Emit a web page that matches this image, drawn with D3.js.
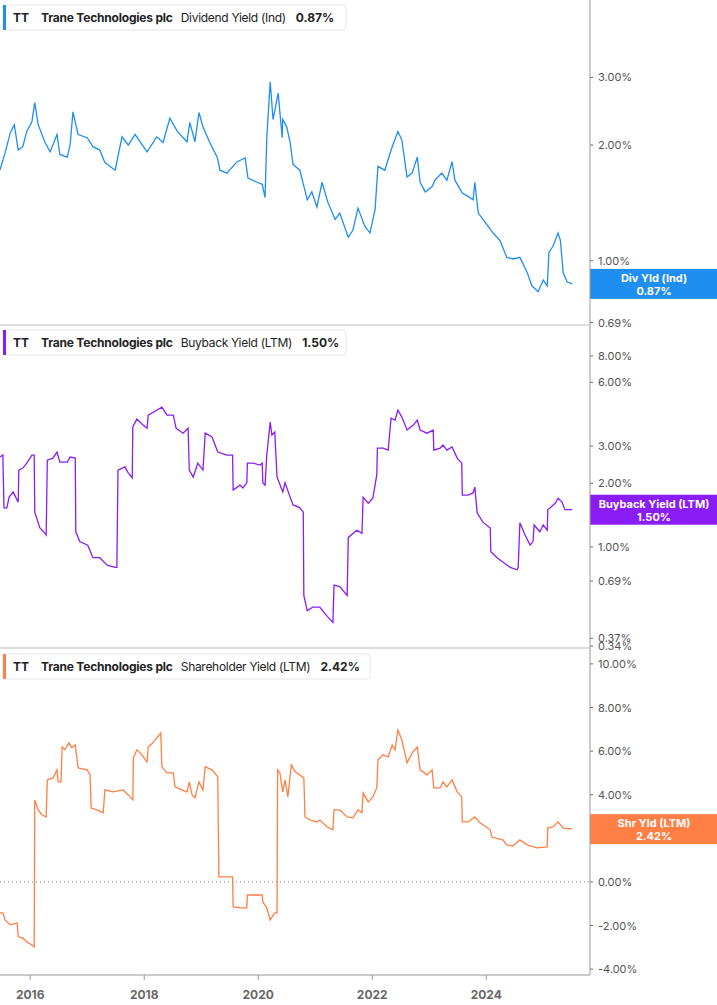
<!DOCTYPE html>
<html><head><meta charset="utf-8">
<script src="https://cdnjs.cloudflare.com/ajax/libs/d3/7.8.5/d3.min.js"></script>
<style>body{margin:0;background:#fff;font-family:Inter,"Noto Sans",sans-serif}</style>
</head><body><svg id="c" width="717" height="1005"></svg>
<script>
const divYield = [[2015.47,1.72],[2015.56,1.91],[2015.65,2.15],[2015.72,2.26],[2015.79,1.94],[2015.87,1.98],[2015.94,2.17],[2016.03,2.30],[2016.08,2.58],[2016.14,2.26],[2016.26,2.03],[2016.35,1.92],[2016.47,2.13],[2016.52,1.89],[2016.65,1.86],[2016.70,2.00],[2016.75,2.44],[2016.84,2.13],[2017.00,2.09],[2017.10,1.98],[2017.22,1.94],[2017.31,1.80],[2017.49,1.72],[2017.61,2.10],[2017.72,2.00],[2017.84,2.13],[2018.05,1.92],[2018.22,2.10],[2018.33,2.03],[2018.45,2.35],[2018.58,2.17],[2018.75,2.04],[2018.80,2.29],[2018.89,2.04],[2018.96,2.43],[2019.03,2.23],[2019.15,2.03],[2019.28,1.86],[2019.33,1.72],[2019.45,1.69],[2019.63,1.81],[2019.77,1.85],[2019.82,1.64],[2019.98,1.60],[2020.07,1.58],[2020.12,1.46],[2020.15,2.09],[2020.21,2.92],[2020.26,2.33],[2020.35,2.73],[2020.42,2.09],[2020.43,2.33],[2020.50,2.23],[2020.56,2.03],[2020.61,1.78],[2020.73,1.72],[2020.86,1.44],[2020.94,1.51],[2021.03,1.38],[2021.12,1.60],[2021.22,1.42],[2021.35,1.28],[2021.43,1.33],[2021.58,1.15],[2021.66,1.20],[2021.75,1.37],[2021.87,1.23],[2021.96,1.18],[2022.05,1.36],[2022.10,1.76],[2022.22,1.72],[2022.35,1.98],[2022.45,2.17],[2022.52,2.06],[2022.61,1.65],[2022.70,1.69],[2022.79,1.86],[2022.84,1.60],[2022.93,1.51],[2023.05,1.56],[2023.10,1.62],[2023.22,1.69],[2023.31,1.62],[2023.40,1.81],[2023.45,1.62],[2023.58,1.50],[2023.68,1.47],[2023.77,1.44],[2023.80,1.60],[2023.86,1.33],[2023.98,1.26],[2024.12,1.18],[2024.24,1.13],[2024.36,1.02],[2024.47,1.01],[2024.59,1.02],[2024.72,0.93],[2024.80,0.86],[2024.91,0.83],[2025.00,0.89],[2025.07,0.86],[2025.10,1.05],[2025.17,1.09],[2025.26,1.18],[2025.30,1.13],[2025.35,0.93],[2025.42,0.88],[2025.51,0.87]];
const buybackYield = [[2015.47,2.66],[2015.52,2.72],[2015.54,1.53],[2015.59,1.53],[2015.63,1.72],[2015.70,1.82],[2015.77,1.67],[2015.79,1.63],[2015.80,2.31],[2015.87,2.36],[2015.94,2.49],[2016.03,2.72],[2016.07,2.72],[2016.08,1.46],[2016.17,1.23],[2016.26,1.16],[2016.28,1.14],[2016.30,2.57],[2016.40,2.63],[2016.47,2.81],[2016.52,2.52],[2016.65,2.52],[2016.70,2.66],[2016.79,2.63],[2016.80,1.18],[2016.87,1.06],[2017.01,1.02],[2017.10,0.89],[2017.22,0.89],[2017.35,0.82],[2017.49,0.80],[2017.52,0.80],[2017.54,2.31],[2017.66,2.39],[2017.72,2.24],[2017.79,2.12],[2017.80,3.69],[2017.87,4.02],[2017.98,3.77],[2018.05,3.64],[2018.07,4.20],[2018.22,4.43],[2018.31,4.58],[2018.40,4.20],[2018.51,4.20],[2018.56,3.64],[2018.68,3.45],[2018.77,3.64],[2018.79,2.31],[2018.86,2.14],[2018.94,2.49],[2019.03,2.31],[2019.07,3.45],[2019.19,3.31],[2019.29,2.81],[2019.45,2.72],[2019.55,2.72],[2019.56,1.86],[2019.68,1.96],[2019.73,1.90],[2019.80,2.01],[2019.81,2.49],[2019.91,2.49],[2020.03,2.44],[2020.07,2.49],[2020.08,2.01],[2020.12,1.96],[2020.15,2.72],[2020.21,3.89],[2020.24,3.38],[2020.29,3.49],[2020.33,2.14],[2020.43,1.82],[2020.47,2.01],[2020.56,1.72],[2020.61,1.58],[2020.72,1.54],[2020.79,1.46],[2020.80,0.59],[2020.86,0.50],[2020.96,0.52],[2021.08,0.52],[2021.21,0.47],[2021.31,0.44],[2021.33,0.66],[2021.43,0.65],[2021.56,0.59],[2021.58,1.11],[2021.73,1.20],[2021.82,1.16],[2021.84,1.72],[2021.93,1.61],[2022.01,1.70],[2022.08,2.19],[2022.09,2.93],[2022.19,2.93],[2022.28,2.87],[2022.33,4.06],[2022.40,3.98],[2022.45,4.43],[2022.52,4.11],[2022.61,3.57],[2022.72,3.77],[2022.79,3.98],[2022.84,3.57],[2022.96,3.45],[2023.07,3.57],[2023.08,2.87],[2023.19,2.93],[2023.24,3.03],[2023.31,2.87],[2023.40,2.97],[2023.49,2.63],[2023.57,2.49],[2023.58,1.76],[2023.68,1.76],[2023.77,1.80],[2023.80,1.92],[2023.84,1.45],[2023.94,1.31],[2024.07,1.23],[2024.08,0.95],[2024.19,0.89],[2024.29,0.85],[2024.42,0.80],[2024.54,0.78],[2024.56,0.80],[2024.59,1.30],[2024.68,1.14],[2024.77,1.02],[2024.82,1.06],[2024.84,1.27],[2024.94,1.18],[2025.00,1.27],[2025.07,1.20],[2025.08,1.50],[2025.21,1.61],[2025.26,1.70],[2025.33,1.63],[2025.38,1.50],[2025.51,1.50]];
const shrYield = [[2015.47,-1.42],[2015.52,-1.42],[2015.56,-1.74],[2015.65,-1.97],[2015.77,-1.88],[2015.79,-2.52],[2015.87,-2.57],[2015.94,-2.75],[2016.03,-2.89],[2016.07,-2.98],[2016.08,3.76],[2016.14,3.30],[2016.21,3.07],[2016.28,2.98],[2016.30,4.68],[2016.40,4.77],[2016.47,5.14],[2016.49,4.59],[2016.54,4.59],[2016.56,6.19],[2016.61,6.06],[2016.68,6.38],[2016.73,6.15],[2016.79,6.28],[2016.84,5.23],[2017.00,5.14],[2017.05,4.91],[2017.07,3.39],[2017.17,3.30],[2017.28,3.17],[2017.31,4.22],[2017.45,4.13],[2017.63,4.22],[2017.72,3.99],[2017.80,3.76],[2017.81,5.69],[2017.87,6.06],[2017.96,5.83],[2018.05,5.50],[2018.07,6.19],[2018.15,6.38],[2018.22,6.61],[2018.29,6.83],[2018.31,5.28],[2018.40,5.00],[2018.51,5.00],[2018.54,4.36],[2018.66,4.22],[2018.75,4.13],[2018.79,4.59],[2018.84,3.99],[2018.89,3.85],[2018.96,4.59],[2019.03,4.22],[2019.07,5.28],[2019.19,5.14],[2019.29,4.82],[2019.31,0.23],[2019.55,0.23],[2019.56,-1.15],[2019.68,-1.19],[2019.80,-1.19],[2019.81,-0.60],[2020.07,-0.60],[2020.08,-0.92],[2020.15,-1.19],[2020.21,-1.74],[2020.29,-1.42],[2020.33,-1.42],[2020.34,5.14],[2020.38,5.00],[2020.43,4.13],[2020.47,4.68],[2020.52,3.90],[2020.58,5.37],[2020.65,5.05],[2020.73,4.91],[2020.80,4.77],[2020.82,2.98],[2020.91,2.84],[2021.03,2.75],[2021.08,2.84],[2021.21,2.52],[2021.31,2.39],[2021.33,3.30],[2021.43,3.30],[2021.56,2.98],[2021.66,2.94],[2021.75,3.30],[2021.82,3.17],[2021.84,4.08],[2021.93,3.67],[2022.01,3.90],[2022.08,4.31],[2022.10,5.60],[2022.19,5.83],[2022.28,5.73],[2022.35,6.28],[2022.40,6.06],[2022.45,6.97],[2022.52,6.51],[2022.61,5.46],[2022.70,5.92],[2022.79,6.19],[2022.84,5.14],[2022.96,4.91],[2023.05,5.14],[2023.08,4.31],[2023.19,4.31],[2023.24,4.59],[2023.31,4.36],[2023.40,4.68],[2023.49,4.13],[2023.57,3.90],[2023.58,2.75],[2023.68,2.75],[2023.80,2.98],[2023.89,2.71],[2024.07,2.39],[2024.10,2.06],[2024.29,1.93],[2024.36,1.70],[2024.47,1.65],[2024.59,1.93],[2024.72,1.70],[2024.89,1.56],[2025.07,1.61],[2025.08,2.48],[2025.17,2.52],[2025.26,2.75],[2025.35,2.48],[2025.51,2.42]];
const divTicks = [3, 2, 1, 0.85, 0.69];
const buyTicks = [8, 6, 3, 2, 1, 0.69, 0.37, 0.34];
const shrTicks = [10, 8, 6, 4, 2, 0, -2, -4];
const yearTicks = [2016, 2018, 2020, 2022, 2024];

const svg = d3.select("#c");
const AX = 590;
const x = d3.scaleLinear().domain([2015.47, 2025.82]).range([0, AX]);
const panels = [
  {data: divYield, ticks: divTicks, y: d3.scaleLog().domain([0.68, 4.77]).range([325, 0]), color: "#1f8ef1",
   metric: "Dividend Yield (Ind)", badge: "Div Yld (Ind)", legW: 343, legY: 5},
  {data: buybackYield, ticks: buyTicks, y: d3.scaleLog().domain([0.333, 11.2]).range([648, 325]), color: "#8a1cf5",
   metric: "Buyback Yield (LTM)", badge: "Buyback Yield (LTM)", legW: 343, legY: 330},
  {data: shrYield, ticks: shrTicks, y: d3.scaleLinear().domain([-4.27, 10.73]).range([975, 648]), color: "#ff7f45",
   metric: "Shareholder Yield (LTM)", badge: "Shr Yld (LTM)", legW: 367, legY: 654, zero: true}
];
const fmt = v => v.toFixed(2) + "%";

panels.forEach(p => {
  if (p.zero) {
    svg.append("line").attr("x1", 0).attr("x2", AX).attr("y1", p.y(0)).attr("y2", p.y(0))
      .attr("stroke", "#888").attr("stroke-dasharray", "1,3");
  }
  const line = d3.line().x(d => x(d[0])).y(d => p.y(d[1]));
  svg.append("path").datum(p.data).attr("d", line).attr("fill", "none")
    .attr("stroke", p.color).attr("stroke-width", 1.3);
  p.ticks.forEach(t => {
    const yy = p.y(t);
    svg.append("line").attr("x1", AX).attr("x2", AX + 3).attr("y1", yy).attr("y2", yy).attr("stroke", "#666");
    svg.append("text").attr("x", AX + 8).attr("y", yy + 4).attr("font-size", 11).attr("fill", "#555").text(fmt(t));
  });
  const last = p.data[p.data.length - 1][1];
  const by = p.y(last);
  svg.append("rect").attr("x", AX).attr("y", by - 15).attr("width", 717 - AX).attr("height", 30).attr("fill", p.color);
  svg.append("text").attr("x", 654).attr("y", by - 2).attr("text-anchor", "middle").attr("font-size", 11)
    .attr("font-weight", "bold").attr("fill", "#fff").text(p.badge);
  svg.append("text").attr("x", 654).attr("y", by + 11).attr("text-anchor", "middle").attr("font-size", 11)
    .attr("font-weight", "bold").attr("fill", "#fff").text(fmt(last));
  const g = svg.append("g").attr("transform", `translate(3,${p.legY})`);
  g.append("rect").attr("width", p.legW).attr("height", 25).attr("rx", 3).attr("fill", "#fff").attr("stroke", "#e6e6e6");
  g.append("rect").attr("width", 3).attr("height", 25).attr("fill", p.color);
  const t = g.append("text").attr("x", 10).attr("y", 17).attr("font-size", 12).attr("fill", "#222");
  t.append("tspan").attr("font-weight", "bold").text("TT");
  t.append("tspan").attr("dx", 12).attr("font-weight", "bold").attr("letter-spacing", -0.2).text("Trane Technologies plc");
  t.append("tspan").attr("dx", 8).attr("letter-spacing", -0.3).text(p.metric);
  t.append("tspan").attr("dx", 10).attr("font-weight", "bold").text(fmt(last));
});

svg.append("line").attr("x1", AX).attr("x2", AX).attr("y1", 0).attr("y2", 975).attr("stroke", "#999");
[325, 648].forEach(yy => svg.append("line").attr("x1", 0).attr("x2", AX).attr("y1", yy).attr("y2", yy).attr("stroke", "#bbb"));
svg.append("line").attr("x1", 0).attr("x2", AX).attr("y1", 975).attr("y2", 975).attr("stroke", "#999");
yearTicks.forEach(yr => {
  svg.append("line").attr("x1", x(yr)).attr("x2", x(yr)).attr("y1", 975).attr("y2", 980).attr("stroke", "#999");
  svg.append("text").attr("x", x(yr)).attr("y", 999).attr("text-anchor", "middle").attr("font-size", 12)
    .attr("font-weight", "bold").attr("fill", "#666").text(yr);
});
</script></body></html>
